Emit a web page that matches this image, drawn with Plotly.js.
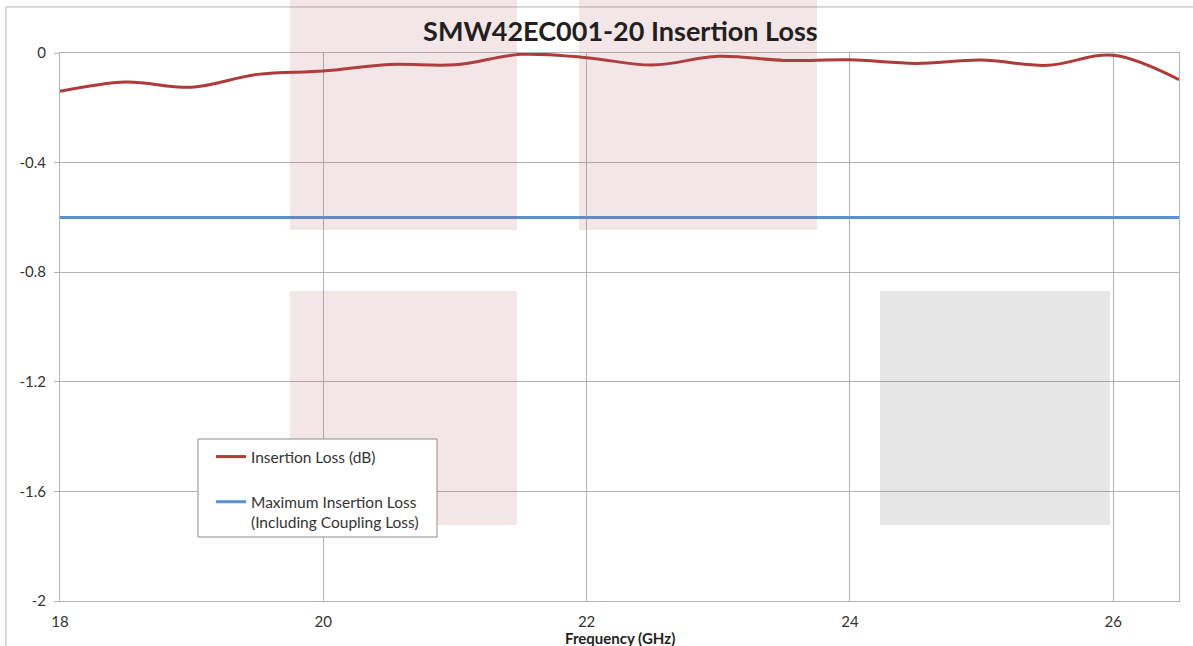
<!DOCTYPE html>
<html>
<head>
<meta charset="utf-8">
<script src="https://cdn.plot.ly/plotly-3.0.1.min.js"></script>
<style>html,body{margin:0;padding:0;background:#fff;}#chart{width:1193px;height:646px;}</style>
</head>
<body>
<div id="chart"></div>
<script>
// Frequency (GHz)
const freq = [18, 18.5, 19, 19.5, 20, 20.5, 21, 21.5, 22, 22.5, 23, 23.5, 24, 24.5, 25, 25.5, 26, 26.5];
// Insertion Loss (dB)
const insertionLoss = [-0.140, -0.106, -0.125, -0.078, -0.066, -0.042, -0.043, -0.005, -0.017, -0.044, -0.012, -0.027, -0.025, -0.038, -0.026, -0.045, -0.008, -0.097];
// Maximum Insertion Loss (Including Coupling Loss)
const maxLossFreq = [18, 26.5];
const maxLoss = [-0.6, -0.6];
const xTicks = [18, 20, 22, 24, 26];
const yTicks = [0, -0.4, -0.8, -1.2, -1.6, -2];
const yTickText = ['0', '-0.4', '-0.8', '-1.2', '-1.6', '-2'];

const font = 'Lato, "Open Sans", sans-serif';

const traces = [
  {
    x: freq, y: insertionLoss, type: 'scatter', mode: 'lines',
    name: 'Insertion Loss (dB)', legendgroup: 'a',
    line: {color: '#ae3b39', width: 3, shape: 'spline', smoothing: 1}
  },
  {
    x: maxLossFreq, y: maxLoss, type: 'scatter', mode: 'lines',
    name: 'Maximum Insertion Loss<br>(Including Coupling Loss)', legendgroup: 'b',
    line: {color: '#5a8fd6', width: 3}
  }
];

const pink = 'rgba(175,88,95,0.15)';
const gray = 'rgba(90,90,90,0.15)';
function rect(x0, x1, y0, y1, c) {
  return {type: 'rect', xref: 'paper', yref: 'paper', x0: x0, x1: x1, y0: y0, y1: y1,
          fillcolor: c, line: {width: 0}, layer: 'above'};
}

const layout = {
  width: 1193, height: 646,
  margin: {l: 60, r: 14, t: 53, b: 45},
  paper_bgcolor: '#fff', plot_bgcolor: '#fff',
  font: {family: font, size: 14, color: '#333'},
  title: {text: '<b>SMW42EC001-20 Insertion Loss</b>', font: {family: font, size: 27, color: '#231f20'},
          x: 0.52, xanchor: 'center', y: 1 - 32/646, yanchor: 'middle'},
  showlegend: true,
  legend: {x: (211 - 60) / 1119, y: (601 - 440) / 548, xanchor: 'left', yanchor: 'top',
           bgcolor: 'rgba(0,0,0,0)', borderwidth: 0,
           traceorder: 'grouped', tracegroupgap: 22, valign: 'top',
           font: {family: font, size: 15.5, color: '#333'}},
  xaxis: {
    range: [18, 26.5], tickvals: xTicks, ticktext: xTicks.map(String),
    showgrid: true, gridcolor: '#b3b3b3', gridwidth: 1,
    showline: true, linecolor: '#b3b3b3', linewidth: 1, mirror: true,
    ticks: '', zeroline: false, ticklabelstandoff: 7,
    tickfont: {family: font, size: 15, color: '#333'}
  },
  yaxis: {
    range: [-2, 0], tickvals: yTicks, ticktext: yTickText,
    showgrid: true, gridcolor: '#b3b3b3', gridwidth: 1,
    showline: true, linecolor: '#b3b3b3', linewidth: 1, mirror: true,
    ticks: 'outside', ticklen: 5, tickcolor: '#b3b3b3', zeroline: false, ticklabelstandoff: 5,
    tickfont: {family: font, size: 15, color: '#333'}
  },
  annotations: [
    {text: '<b>Frequency (GHz)</b>', xref: 'paper', yref: 'paper', x: 0.5, y: (601 - 638) / 548,
     xanchor: 'center', yanchor: 'middle', showarrow: false,
     font: {family: font, size: 15, color: '#231f20'}}
  ],
  shapes: [
    rect(0.2055, 0.4084, 0.677, 1.2, pink),
    rect(0.4638, 0.6765, 0.677, 1.2, pink),
    rect(0.2055, 0.4084, 0.1387, 0.5657, pink),
    rect(0.7328, 0.9383, 0.1387, 0.5657, gray),
    {type: 'rect', xref: 'paper', yref: 'paper', x0: -0.0483, x1: 1.2, y0: -0.3, y1: 1.084,
     line: {color: '#b3b3b3', width: 1}, fillcolor: 'rgba(0,0,0,0)', layer: 'below'},
    {type: 'rect', xref: 'paper', yref: 'paper',
     x0: (198 - 60) / 1119, x1: (437 - 60) / 1119, y0: (601 - 537) / 548, y1: (601 - 439) / 548,
     line: {color: '#8c8c8c', width: 1}, fillcolor: '#ffffff', layer: 'above'}
  ]
};

Plotly.newPlot('chart', traces, layout, {displayModeBar: false, staticPlot: true});
</script>
</body>
</html>
